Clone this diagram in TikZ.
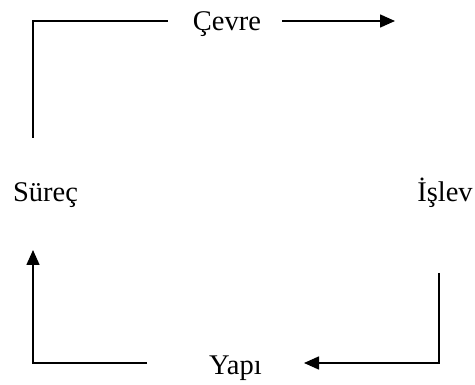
\documentclass[tikz,border=0pt]{standalone}
\usepackage{fontspec}
\setmainfont{Liberation Serif}
\usetikzlibrary{arrows.meta}
\begin{document}
\begin{tikzpicture}[x=1pt,y=-1pt,
  label/.style={anchor=base,inner sep=0pt,font=\fontsize{28.5}{34}\selectfont},
  link/.style={line width=1.6pt},
  arrowlink/.style={link,-{Triangle[length=15pt,width=13pt]}}]
  \useasboundingbox (0,0) rectangle (475,385);

  % labels
  \node[label] (cevre) at (227,31) {Çevre};
  \node[label] (surec) at (45.5,202) {Süreç};
  \node[label] (islev) at (445,202) {İşlev};
  \node[label] (yapi)  at (235.5,375) {Yapı};

  % free ends of the connectors
  \coordinate (s-up)   at (33,138);
  \coordinate (c-in)   at (168,21);
  \coordinate (c-out)  at (282,21);
  \coordinate (c-tip)  at (395,21);
  \coordinate (i-down) at (439,273);
  \coordinate (y-tip)  at (304,363);
  \coordinate (y-out)  at (147,363);
  \coordinate (s-tip)  at (33,250);

  % Süreç -> Çevre -> İşlev
  \draw[link] (s-up) |- (c-in);
  \draw[arrowlink] (c-out) -- (c-tip);
  % İşlev -> Yapı
  \draw[arrowlink] (i-down) |- (y-tip);
  % Yapı -> Süreç
  \draw[arrowlink] (y-out) -| (s-tip);
\end{tikzpicture}
\end{document}
